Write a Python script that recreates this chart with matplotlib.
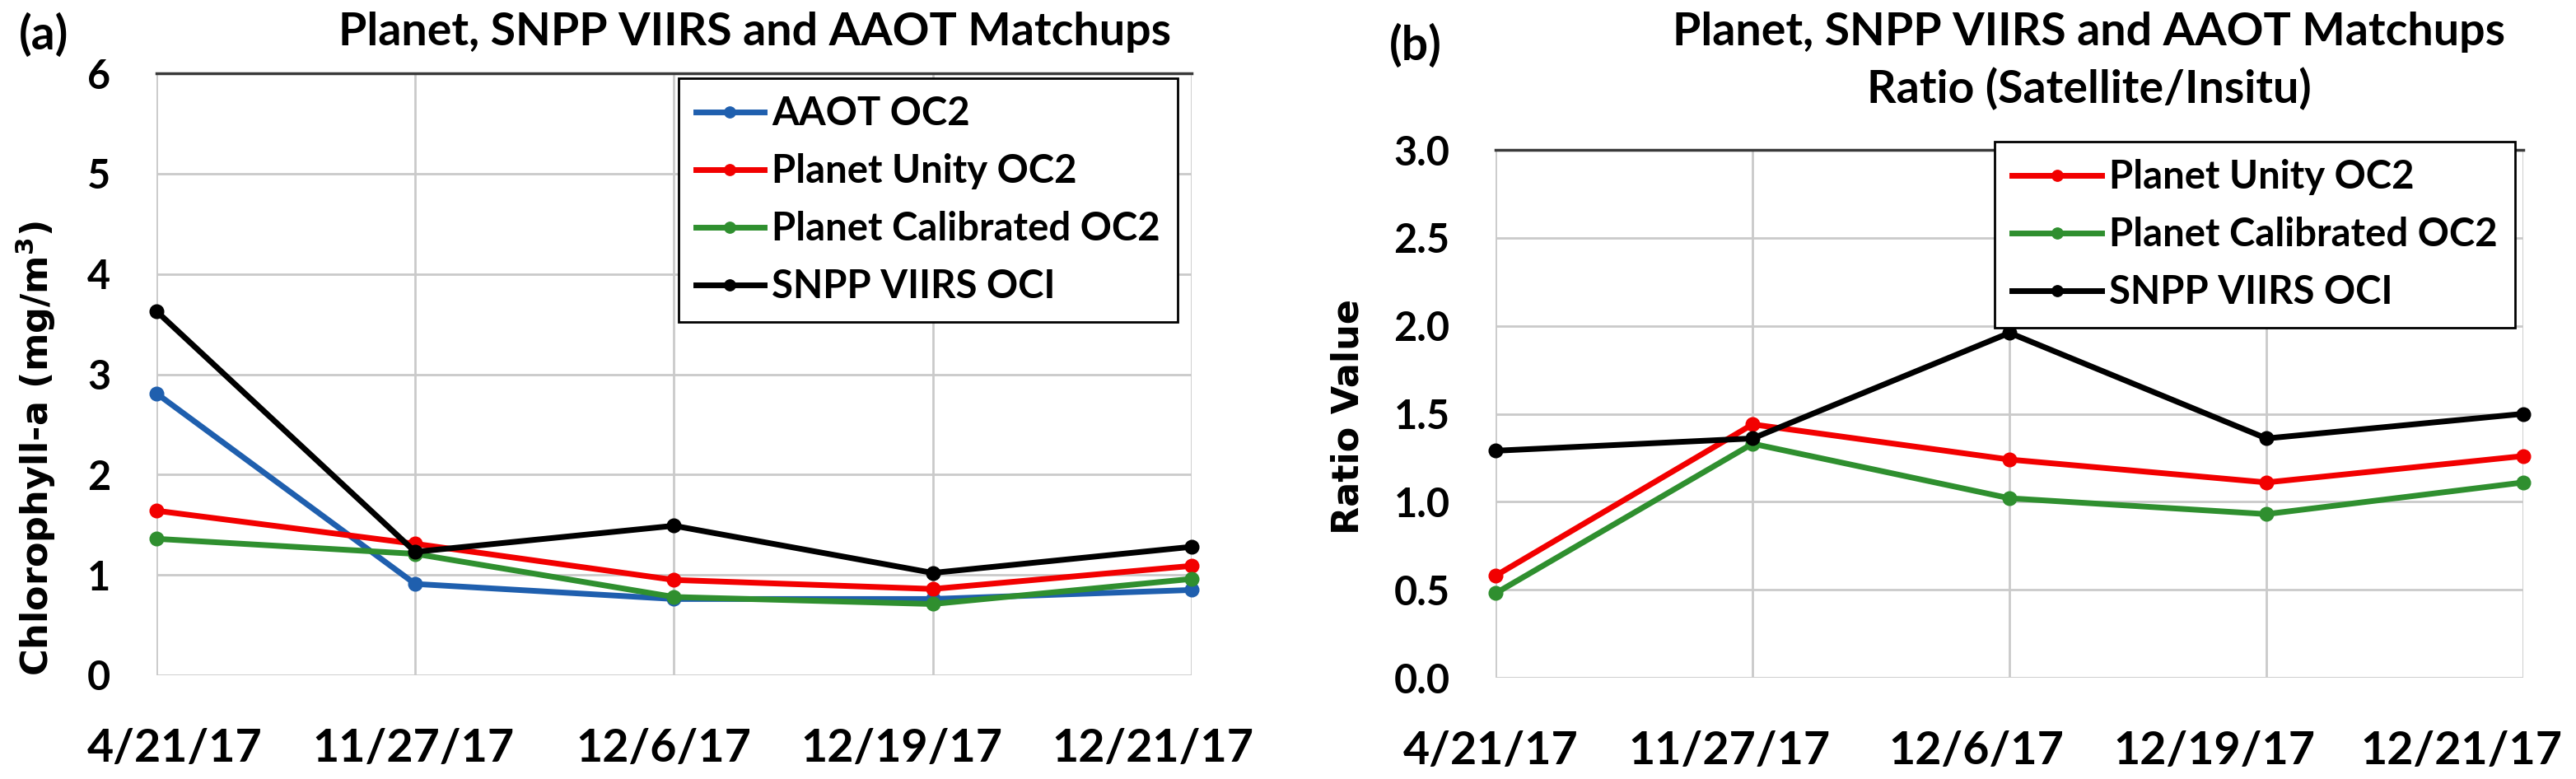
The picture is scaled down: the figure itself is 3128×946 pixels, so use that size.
"""
Planet / SNPP VIIRS / AAOT chlorophyll matchups: (a) values, (b) ratios.
"""
import matplotlib

matplotlib.use("Agg")
import matplotlib.pyplot as plt
from matplotlib.transforms import ScaledTranslation

DATES = ["4/21/17", "11/27/17", "12/6/17", "12/19/17", "12/21/17"]

# ---------- panel (a): chlorophyll-a (mg/m3) ----------
CHL_AAOT = [2.81, 0.91, 0.76, 0.76, 0.85]
CHL_UNITY = [1.64, 1.31, 0.95, 0.86, 1.09]
CHL_CAL = [1.36, 1.21, 0.78, 0.71, 0.96]
CHL_VIIRS = [3.63, 1.23, 1.49, 1.02, 1.28]

# ---------- panel (b): ratio satellite / in situ ----------
RAT_UNITY = [0.58, 1.44, 1.24, 1.11, 1.26]
RAT_CAL = [0.48, 1.33, 1.02, 0.93, 1.11]
RAT_VIIRS = [1.29, 1.36, 1.96, 1.36, 1.50]

BLUE = "#1F5FAE"
RED = "#F20000"
GREEN = "#2F8F2F"
BLACK = "#000000"

# horizontal nudges (px) of the date labels, as laid out in the original figure
NUDGE_A = [22, -2, -13, -38, -47]
NUDGE_B = [-6, -28, -40, -63, -75]

plt.rcParams["font.family"] = ["Lato", "DejaVu Sans"]
plt.rcParams["font.weight"] = "bold"

fig = plt.figure(figsize=(31.28, 9.46), dpi=100)
ax_a = fig.add_axes([0.0607, 0.1332, 0.4019, 0.7727])
ax_b = fig.add_axes([0.5806, 0.1300, 0.3990, 0.6776])


def style(ax, ylim, yticks, fmt, nudge):
    ax.set_xlim(0, len(DATES) - 1)
    ax.set_ylim(*ylim)
    ax.set_xticks(list(range(len(DATES))), DATES)
    ax.set_yticks(yticks, [fmt.format(v) for v in yticks])
    ax.grid(True, color="#CACACA", linewidth=2)
    ax.set_axisbelow(True)
    for s in ax.spines.values():
        s.set_visible(False)
    ax.spines["top"].set_visible(True)
    ax.spines["top"].set_color("#3A3A3A")
    ax.spines["top"].set_linewidth(2.5)
    ax.tick_params(axis="x", length=0, pad=46, labelsize=40)
    ax.tick_params(axis="y", length=0, pad=40, labelsize=35)
    for lab, dx in zip(ax.get_xticklabels(), nudge):
        lab.set_transform(lab.get_transform()
                          + ScaledTranslation(dx / 100, 0, fig.dpi_scale_trans))


def series(ax, vals, color, label):
    ax.plot(range(len(vals)), vals, color=color, linewidth=5, marker="o",
            markersize=12, label=label, clip_on=False, zorder=3)


def legend(ax, anchor, handlelength):
    leg = ax.legend(loc="upper right", bbox_to_anchor=anchor, borderaxespad=0,
                    fontsize=34, frameon=True, fancybox=False,
                    edgecolor="black", framealpha=1, handlelength=handlelength,
                    handletextpad=0.2, labelspacing=0.55, borderpad=0.45,
                    numpoints=1, markerscale=0.8)
    leg.get_frame().set_linewidth(2)
    leg.set_zorder(5)


series(ax_a, CHL_AAOT, BLUE, "AAOT OC2")
series(ax_a, CHL_UNITY, RED, "Planet Unity OC2")
series(ax_a, CHL_CAL, GREEN, "Planet Calibrated OC2")
series(ax_a, CHL_VIIRS, BLACK, "SNPP VIIRS OCI")
style(ax_a, (0, 6), [0, 1, 2, 3, 4, 5, 6], "{:.0f}", NUDGE_A)
ax_a.set_ylabel("Chlorophyll-a (mg/m$^\\mathbf{3}$)", family="DejaVu Sans",
                fontsize=32, fontweight="bold")
ax_a.yaxis.set_label_coords(-0.095, 0.376)
legend(ax_a, (0.9865, 0.992), 1.75)

series(ax_b, RAT_UNITY, RED, "Planet Unity OC2")
series(ax_b, RAT_CAL, GREEN, "Planet Calibrated OC2")
series(ax_b, RAT_VIIRS, BLACK, "SNPP VIIRS OCI")
style(ax_b, (0, 3.0), [0, 0.5, 1.0, 1.5, 2.0, 2.5, 3.0], "{:.1f}", NUDGE_B)
ax_b.set_ylabel("Ratio Value", family="DejaVu Sans", fontsize=32,
                fontweight="bold")
ax_b.yaxis.set_label_coords(-0.126, 0.495)
legend(ax_b, (0.992, 1.0156), 2.3)

fig.text(0.293, 0.985, "Planet, SNPP VIIRS and AAOT Matchups", ha="center",
         va="top", fontsize=40, fontweight="bold")
fig.text(0.811, 0.985, "Planet, SNPP VIIRS and AAOT Matchups\nRatio (Satellite/Insitu)",
         ha="center", va="top", fontsize=40, fontweight="bold", linespacing=1.4)
fig.text(0.0074, 0.983, "(a)", ha="left", va="top", fontsize=41, fontweight="bold")
fig.text(0.5393, 0.970, "(b)", ha="left", va="top", fontsize=41, fontweight="bold")

fig.savefig("out.png", dpi=100)
